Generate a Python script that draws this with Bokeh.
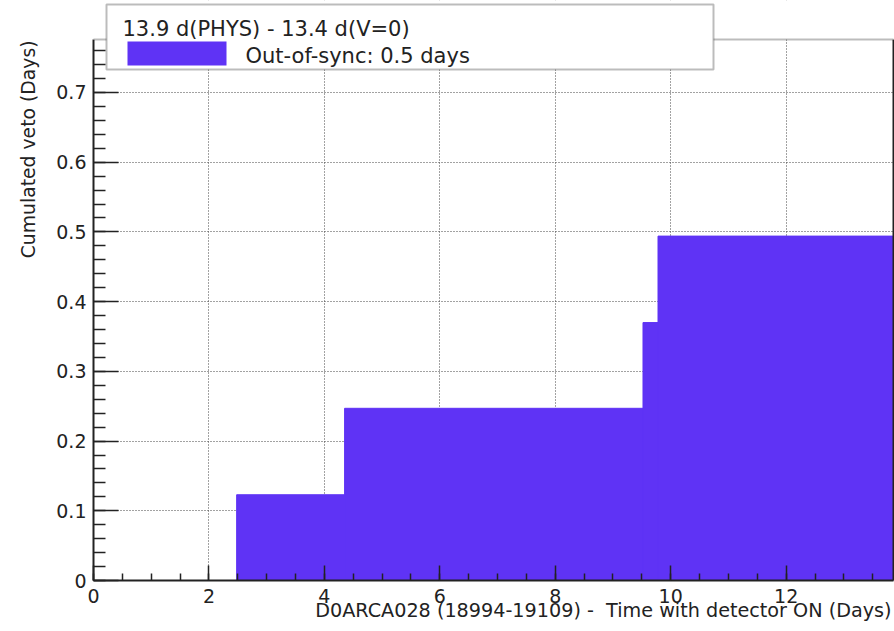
from bokeh.plotting import figure
from bokeh.models import (BoxAnnotation, Label, LinearAxis, FixedTicker, Title,
                          SingleIntervalTicker, CustomJSTickFormatter, Range1d)
from bokeh.embed import file_html
from bokeh.resources import INLINE

# Cumulated out-of-sync veto for run D0ARCA028, as a step histogram
step_start = [2.48, 4.35, 9.52, 9.78]          # days with detector ON
cumulated_veto = [0.123, 0.247, 0.370, 0.494]  # days
run_length = 13.86                              # days (PHYS)

header_text = "13.9 d(PHYS) - 13.4 d(V=0)"
entry_text = "Out-of-sync: 0.5 days"
x_title = "D0ARCA028 (18994-19109) - \u00a0Time with detector ON (Days)"
y_title = "Cumulated veto (Days)"

FILL = "#5f33f5"
INK = "#222222"
FONT = "DejaVu Sans"

W, H = 894, 631
F_LEFT, F_RIGHT, F_BOTTOM = 93, 893, 580   # drawing area spans canvas top to F_BOTTOM
AXIS_TOP_PX = 39                             # where the histogram frame ends
Y_MAX = 0.776                                # value at the top of the frame
PX_PER_Y = (F_BOTTOM - AXIS_TOP_PX) / Y_MAX
Y_TOP = F_BOTTOM / PX_PER_Y                  # value at the canvas top
X_END = run_length

p = figure(width=W, height=H, output_backend="svg", toolbar_location=None,
           x_range=Range1d(0, X_END), y_range=Range1d(0, Y_TOP),
           min_border_left=F_LEFT, min_border_right=W - F_RIGHT,
           min_border_top=0, min_border_bottom=H - F_BOTTOM)
p.outline_line_color = None
p.background_fill_color = "white"
p.border_fill_color = "white"


def sx(px):
    """canvas x pixel -> data x"""
    return (px - F_LEFT) / (F_RIGHT - F_LEFT) * X_END


def sy(py):
    """canvas y pixel -> data y"""
    return (F_BOTTOM - py) / PX_PER_Y


# histogram bins: each step holds its value until the next step
step_end = step_start[1:] + [run_length]
r = p.quad(left=step_start, right=step_end, bottom=0, top=cumulated_veto,
           fill_color=FILL, line_color=FILL, line_width=1)

# axes
xa, ya = p.xaxis[0], p.yaxis[0]
xa.ticker = SingleIntervalTicker(interval=2, num_minor_ticks=4)
ya.ticker = SingleIntervalTicker(interval=0.1, num_minor_ticks=5)
ya.bounds = (0, Y_MAX)
ya.formatter = CustomJSTickFormatter(code="return tick == 0 ? '0' : tick.toFixed(1);")
for ax in (xa, ya):
    ax.axis_line_color = INK
    ax.axis_line_width = 2
    ax.major_tick_line_color = INK
    ax.minor_tick_line_color = INK
    ax.major_tick_line_width = 1.5
    ax.minor_tick_line_width = 1.5
    ax.major_tick_out = 0
    ax.minor_tick_out = 0
    ax.major_label_text_font = FONT
    ax.major_label_text_font_size = "19px"
    ax.major_label_text_color = INK
xa.major_tick_in = 15
xa.minor_tick_in = 7
ya.major_tick_in = 25
ya.minor_tick_in = 12
xa.major_label_standoff = 8
ya.major_label_standoff = 7

# right edge of the frame
p.add_layout(LinearAxis(ticker=FixedTicker(ticks=[]), bounds=(0, Y_MAX),
                        axis_line_color=INK, axis_line_width=2,
                        major_tick_in=0, major_tick_out=0,
                        minor_tick_in=0, minor_tick_out=0), "right")

# dotted grid
for g in (p.xgrid[0], p.ygrid[0]):
    g.grid_line_color = "#444444"
    g.grid_line_dash = "1 2"
    g.grid_line_width = 1

# blank strip above the frame; its lower edge is the frame's top line
p.add_layout(BoxAnnotation(left=-1, right=X_END + 1, bottom=Y_MAX, top=Y_TOP + 1,
                           fill_color="white", fill_alpha=1,
                           line_color=INK, line_width=2))

# axis titles, right-aligned at the axis ends
p.add_layout(Title(text=x_title, align="right", offset=2, standoff=-17,
                   text_font=FONT, text_font_size="19.2px",
                   text_font_style="normal", text_color=INK), "below")
p.add_layout(Title(text=y_title, align="right", offset=AXIS_TOP_PX + 1, standoff=30,
                   text_font=FONT, text_font_size="18.8px",
                   text_font_style="normal", text_color=INK), "left")

# legend box
p.add_layout(BoxAnnotation(left=sx(106), right=sx(713), top=sy(4), bottom=sy(69),
                           fill_color="white", fill_alpha=1,
                           line_color=INK, line_width=2))
p.add_layout(BoxAnnotation(left=sx(127), right=sx(226), top=sy(41), bottom=sy(65),
                           fill_color=FILL, fill_alpha=1, line_color=None))
p.add_layout(Label(x=sx(122), y=sy(28.3), text=header_text,
                   text_baseline="alphabetic", text_font=FONT,
                   text_font_size="21px", text_color=INK))
p.add_layout(Label(x=sx(245), y=sy(55.5), text=entry_text,
                   text_baseline="alphabetic", text_font=FONT,
                   text_font_size="21px", text_color=INK))

open("out.html", "w").write(file_html(p, INLINE))
